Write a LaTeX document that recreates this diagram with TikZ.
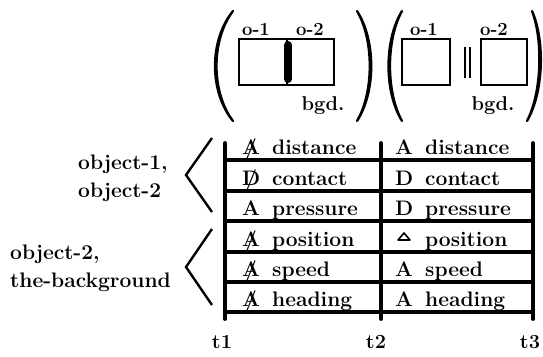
\documentclass[tikz,border=0pt]{standalone}
\usepackage{fontspec}
\begin{document}
\begin{tikzpicture}[x=1pt,y=-1pt,
  txt/.style={font=\fontsize{21}{25}\selectfont\bfseries, inner sep=0pt, anchor=base west},
  tag/.style={font=\fontsize{18.5}{20}\selectfont\bfseries, inner sep=0pt, anchor=base},
  tick/.style={font=\fontsize{20}{24}\selectfont\bfseries, inner sep=0pt, anchor=base},
  sep/.style={line width=3.2pt},
  timeline/.style={line width=3.8pt, line cap=round},
  objbox/.style={draw, line width=2.2pt, inner sep=0pt, minimum height=46pt},
  brace/.style={line width=2.4pt, line join=miter},
  paren/.style={fill=black, draw=black, line width=2.3pt, line cap=round, line join=round}]
\newcommand\slashed[1]{\ooalign{#1\cr\hidewidth/\hidewidth}}
\useasboundingbox (0,0) rectangle (543,356);

% ---- snapshots of the scene ----
% first scene: the two objects touch
\node[objbox, minimum width=48pt] (ba1) at (263,62) {};
\node[objbox, minimum width=47pt] (ba2) at (310.5,62) {};
\draw[line width=8pt, line cap=round] ([yshift=-17pt]ba1.east) -- ([yshift=17pt]ba1.east);
\node[tag] (la1) at (256,35) {o-1};
\node[tag] (la2) at (310,35) {o-2};
\node[tag, font=\fontsize{20}{24}\selectfont\bfseries] (lag) at (323,110) {bgd.};
\fill[paren] (233,11) .. controls (209,40) and (209,92) .. (233,121)
  .. controls (211,92) and (211,40) .. (233,11) -- cycle;
\fill[paren] (357,11) .. controls (376,40) and (376,92) .. (357,121)
  .. controls (374,92) and (374,40) .. (357,11) -- cycle;

% second scene: the two objects apart
\node[objbox, minimum width=48pt] (bb1) at (426,62) {};
\node[objbox, minimum width=46pt] (bb2) at (504,62) {};
\coordinate (gapA) at (465,47);
\coordinate (gapB) at (470,47);
\draw[line width=2.2pt] (gapA) -- ++(0,31);
\draw[line width=2.2pt] (gapB) -- ++(0,31);
\node[tag] (lb1) at (424,35) {o-1};
\node[tag] (lb2) at (494,35) {o-2};
\node[tag, font=\fontsize{20}{24}\selectfont\bfseries] (lbg) at (493,110) {bgd.};
\fill[paren] (402,11) .. controls (384,40) and (384,92) .. (402,121)
  .. controls (386,92) and (386,40) .. (402,11) -- cycle;
\fill[paren] (532,11) .. controls (545,40) and (544,92) .. (527,121)
  .. controls (542,92) and (543,40) .. (532,11) -- cycle;

% ---- time lines ----
\foreach \n/\x in {1/225,2/381,3/533}{
  \coordinate (t\n top) at (\x,143);
  \coordinate (t\n bot) at (\x,319);
  \draw[timeline] (t\n top) -- (t\n bot);
}
\node[tick] (t1) at (222,348) {t1};
\node[tick] (t2) at (376,348) {t2};
\node[tick] (t3) at (530,348) {t3};

% row separators
\foreach \k/\y in {1/160,2/191,3/221,4/252,5/282,6/312}{
  \coordinate (s\k w) at (225,\y);
  \coordinate (s\k e) at (533,\y);
  \draw[sep] (s\k w) -- (s\k e);
}

% ---- relation labels ----
% interval t1-t2
\node[txt] (a1) at (242,154) {\slashed{A}};
\node[txt] (w1) at (272,154) {distance};
\node[txt] (a2) at (242,185) {\slashed{D}};
\node[txt] (w2) at (272,185) {contact};
\node[txt] (a3) at (242,215) {A};
\node[txt] (w3) at (272,215) {pressure};
\node[txt] (a4) at (242,246) {\slashed{A}};
\node[txt] (w4) at (272,246) {position};
\node[txt] (a5) at (242,276) {\slashed{A}};
\node[txt] (w5) at (272,276) {speed};
\node[txt] (a6) at (242,306) {\slashed{A}};
\node[txt] (w6) at (272,306) {heading};
% interval t2-t3
\node[txt] (b1) at (395,154) {A};
\node[txt] (v1) at (425,154) {distance};
\node[txt] (b2) at (395,185) {D};
\node[txt] (v2) at (425,185) {contact};
\node[txt] (b3) at (395,215) {D};
\node[txt] (v3) at (425,215) {pressure};
\coordinate (tri) at (404,233);
\draw[line width=1.6pt, line join=round] (tri) -- ++(6,7) -- ++(-12,0) -- cycle;
\node[txt] (v4) at (425,246) {position};
\node[txt] (b5) at (395,276) {A};
\node[txt] (v5) at (425,276) {speed};
\node[txt] (b6) at (395,306) {A};
\node[txt] (v6) at (425,306) {heading};

% ---- object pairs ----
\node[txt] (p1a) at (78,169) {object-1,};
\node[txt] (p1b) at (78,197) {object-2};
\node[txt] (p2a) at (10,259) {object-2,};
\node[txt] (p2b) at (10,287) {the-background};
\coordinate (g1t) at (212,138);
\coordinate (g1m) at (186,175);
\coordinate (g1b) at (212,212);
\draw[brace] (g1t) -- (g1m) -- (g1b);
\coordinate (g2t) at (212,229);
\coordinate (g2m) at (186,267);
\coordinate (g2b) at (212,305);
\draw[brace] (g2t) -- (g2m) -- (g2b);
\end{tikzpicture}
\end{document}
